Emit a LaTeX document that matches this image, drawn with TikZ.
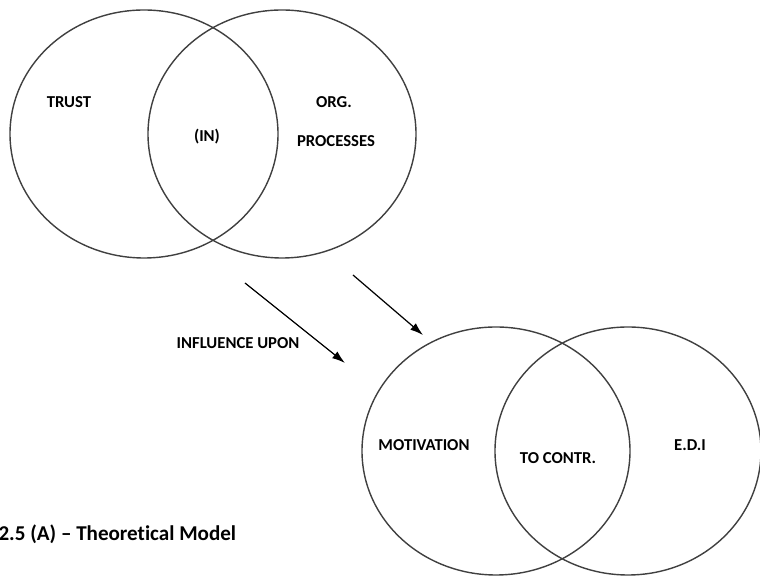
\documentclass[tikz,border=0pt]{standalone}
\usepackage{fontspec}
\setmainfont{Carlito}[Ligatures={NoCommon}]
\usetikzlibrary{arrows.meta}
\begin{document}
\begin{tikzpicture}[line width=0.6pt,
    venn/.style={draw=black!75, line width=0.8pt},
    lbl/.style={font=\fontsize{9.5}{11}\selectfont\bfseries, inner sep=1pt},
    push/.style={-{Latex[length=2.6mm, width=1.7mm]}, line width=0.7pt}]
  \useasboundingbox (0,0) rectangle (15.2,11.52);
  % upper pair
  \draw[venn] (2.880,8.840) ellipse [x radius=2.68, y radius=2.48];
  \draw[venn] (5.640,8.840) ellipse [x radius=2.68, y radius=2.48];
  \node[lbl] (trust) at (1.380,9.480) {TRUST};
  \node[lbl] (org) at (6.680,9.480) {ORG.};
  \node[lbl] (in) at (4.140,8.780) {(IN)};
  \node[lbl] (proc) at (6.720,8.700) {PROCESSES};
  % lower pair
  \draw[venn] (9.920,2.500) ellipse [x radius=2.68, y radius=2.48];
  \draw[venn] (12.560,2.500) ellipse [x radius=2.66, y radius=2.48];
  \node[lbl] (motiv) at (8.480,2.620) {MOTIVATION};
  \node[lbl] (contr) at (11.160,2.360) {TO CONTR.};
  \node[lbl] (edi) at (13.800,2.620) {E.D.I};
  % arrows
  \coordinate (a1s) at (4.900,5.860);
  \coordinate (a1e) at (6.900,4.260);
  \coordinate (a2s) at (7.060,6.020);
  \coordinate (a2e) at (8.460,4.820);
  \draw[push] (a1s) -- (a1e);
  \draw[push] (a2s) -- (a2e);
  \node[lbl] (infl) at (4.760,4.660) {INFLUENCE UPON};
  % caption
  \node[font=\fontsize{12}{14}\selectfont\bfseries, inner sep=0pt, anchor=base west]
    (cap) at (-0.040,0.700) {2.5 (A) – Theoretical Model};
\end{tikzpicture}
\end{document}
